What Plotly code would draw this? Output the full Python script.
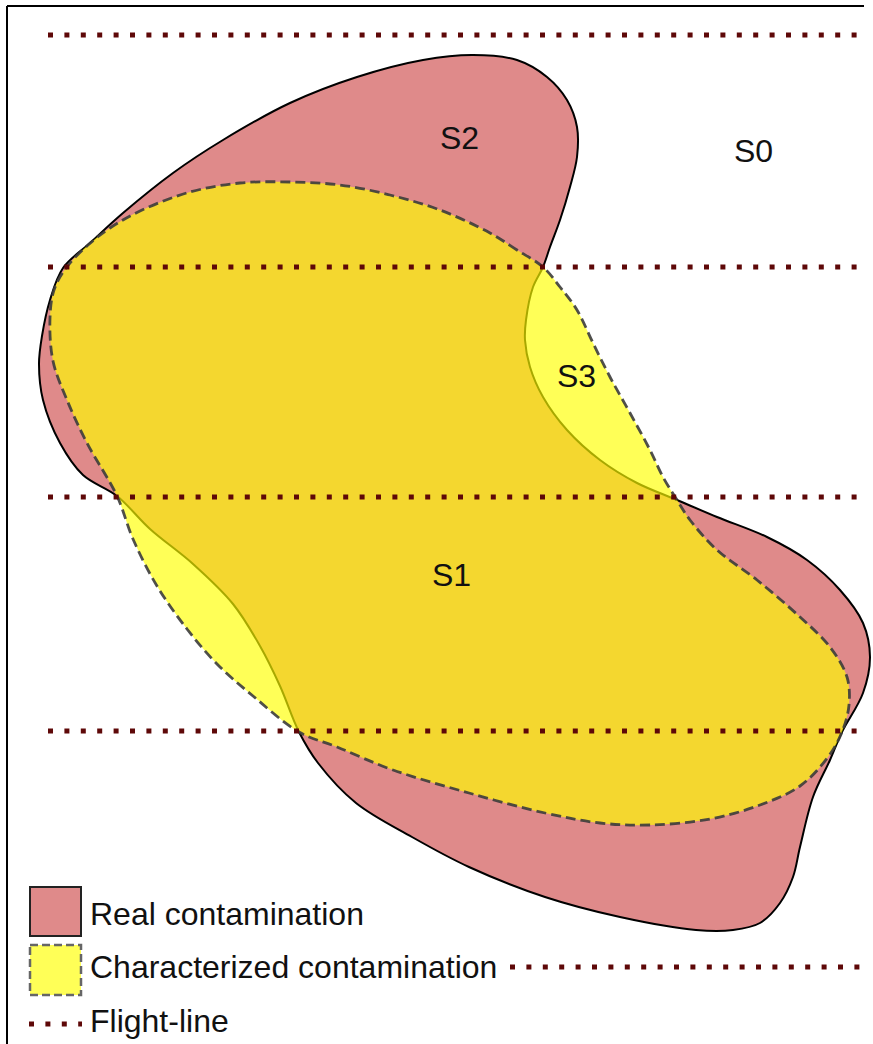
import plotly.graph_objects as go

# Outline of the real contamination (image pixels, y grows downward)
real_x = [543, 550, 560, 570, 577, 577, 567, 547, 517, 473, 423, 357, 290, 223, 173, 123,
          90, 63, 50, 42, 39, 43, 60, 83, 117, 150, 193, 233, 260, 280, 299, 318, 356, 412,
          469, 545, 620, 696, 733, 760, 780, 793, 800, 813, 830, 842, 863, 870, 863, 840,
          807, 767, 717, 677, 637, 600, 567, 543, 530, 525, 526, 533, 543]
real_y = [267, 247, 220, 187, 157, 127, 100, 77, 60, 55, 60, 77, 103, 140, 173, 213,
          243, 268, 300, 336, 364, 400, 443, 475, 496, 529, 564, 604, 646, 686, 732, 763,
          803, 837, 867, 897, 917, 930, 930, 923, 903, 877, 847, 797, 760, 732, 693, 657,
          623, 590, 560, 537, 517, 500, 483, 460, 430, 397, 367, 340, 320, 287, 267]

# Outline of the characterized contamination
char_x = [543, 517, 490, 440, 390, 340, 290, 240, 190, 140, 110, 88, 66, 54, 50, 53, 67,
          87, 117, 133, 157, 187, 217, 253, 299, 337, 393, 469, 545, 600, 650, 710, 760,
          800, 828, 842, 849, 847, 830, 800, 757, 717, 690, 677, 663, 650, 630, 610, 593,
          577, 560, 543]
char_y = [267, 250, 233, 210, 195, 185, 182, 183, 192, 211, 228, 245, 268, 290, 318, 361,
          400, 443, 496, 539, 586, 629, 664, 696, 732, 747, 770, 793, 813, 823, 825, 819,
          805, 786, 757, 732, 705, 677, 647, 617, 580, 550, 520, 500, 477, 450, 413, 377,
          343, 310, 287, 267]

# Flight lines
flight_y = [35, 267, 497, 731, 967]
flight_x0 = [48, 48, 48, 48, 510]
flight_x1 = [860, 860, 860, 860, 860]

# Zone labels
zone_labels = ['S0', 'S1', 'S2', 'S3']
zone_x = [753, 451, 459, 576]
zone_y = [151, 575, 138, 376]

# Legend
legend_labels = ['Real contamination', 'Characterized contamination', 'Flight-line']
legend_text_y = [914, 967, 1021]

RED = '#DF8A8A'
YELLOW = 'rgba(255,255,0,0.66)'
DASH_GREY = 'rgba(60,60,60,0.9)'
MAROON = '#5E0808'
FONT = 'Liberation Sans, Arial, sans-serif'
W, H = 873, 1044

fig = go.Figure()

# Real contamination
fig.add_trace(
    go.Scatter(
        x=real_x,
        y=real_y,
        mode='lines',
        fill='toself',
        fillcolor=RED,
        line=dict(color='black', width=2, shape='spline', smoothing=1),
        hoverinfo='skip',
    )
)

# Characterized contamination (translucent so the overlap turns golden)
fig.add_trace(
    go.Scatter(
        x=char_x,
        y=char_y,
        mode='lines',
        fill='toself',
        fillcolor=YELLOW,
        line=dict(color=DASH_GREY, width=2.8, dash='10px,5px', shape='spline', smoothing=1),
        hoverinfo='skip',
    )
)

# Flight lines
for fy, fx0, fx1 in zip(flight_y, flight_x0, flight_x1):
    fig.add_trace(
        go.Scatter(
            x=[fx0, fx1],
            y=[fy, fy],
            mode='lines',
            line=dict(color=MAROON, width=5, dash='5px,11.4px'),
            hoverinfo='skip',
        )
    )

# Legend keys
fig.add_shape(type='rect', x0=30, x1=81, y0=887, y1=936,
              fillcolor=RED, line=dict(color='#222', width=2))
fig.add_shape(type='rect', x0=30, x1=81, y0=945, y1=995,
              fillcolor=YELLOW, line=dict(color='#666', width=2.5, dash='8px,4px'))
fig.add_trace(
    go.Scatter(
        x=[29, 82],
        y=[1024, 1024],
        mode='lines',
        line=dict(color=MAROON, width=5, dash='5px,11.4px'),
        hoverinfo='skip',
    )
)

for label, ty in zip(legend_labels, legend_text_y):
    fig.add_annotation(
        x=88, y=ty, text=label, showarrow=False,
        xanchor='left', yanchor='middle',
        font=dict(family=FONT, size=32, color='#111'),
    )

for label, zx, zy in zip(zone_labels, zone_x, zone_y):
    fig.add_annotation(
        x=zx, y=zy, text=label, showarrow=False,
        xanchor='center', yanchor='middle',
        font=dict(family=FONT, size=32, color='#111'),
    )

# Frame (top and left edges)
fig.add_shape(type='line', x0=7, x1=864, y0=6, y1=6, line=dict(color='black', width=2))
fig.add_shape(type='line', x0=7, x1=7, y0=6, y1=H, line=dict(color='black', width=2))

fig.update_layout(
    width=W,
    height=H,
    margin=dict(l=0, r=0, t=0, b=0),
    showlegend=False,
    plot_bgcolor='white',
    paper_bgcolor='white',
    xaxis=dict(range=[0, W], visible=False, fixedrange=True),
    yaxis=dict(range=[H, 0], visible=False, fixedrange=True),
)

# drop the page margin so the figure sits at the window's top-left corner
fig.write_html(
    'out.html',
    config={'displayModeBar': False},
    post_script="document.body.style.margin = '0';",
)
